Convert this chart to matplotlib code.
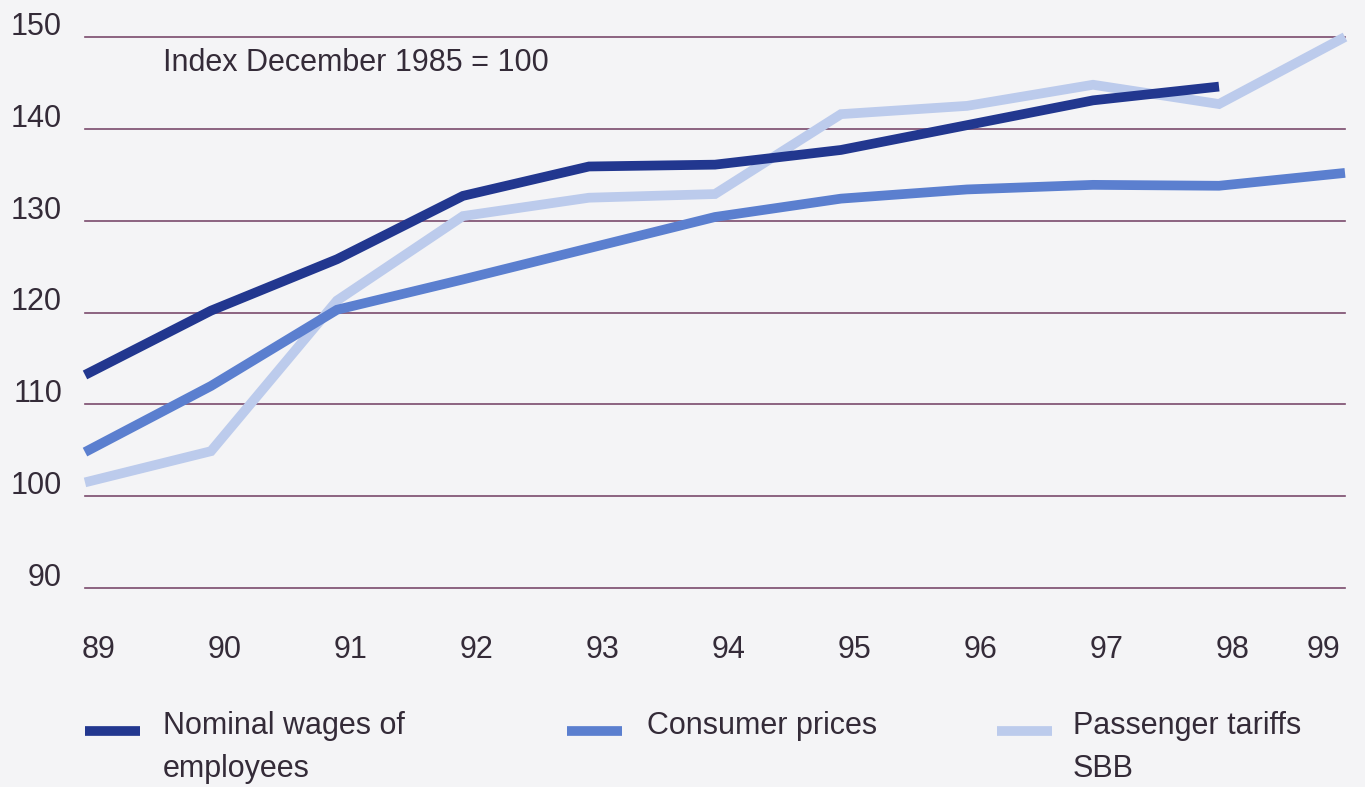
import matplotlib
matplotlib.use("Agg")
import matplotlib.pyplot as plt
from matplotlib.lines import Line2D
import matplotlib.transforms as mtransforms

plt.rcParams['font.family'] = ['Liberation Sans', 'DejaVu Sans']

years = [89, 90, 91, 92, 93, 94, 95, 96, 97, 98, 99]
year_labels = ["89", "90", "91", "92", "93", "94", "95", "96", "97", "98", "99"]

wages_years = [89, 90, 91, 92, 93, 94, 95, 96, 97, 98]
wages = [113.2, 120.2, 125.8, 132.7, 135.9, 136.1, 137.7, 140.4, 143.1, 144.6]

consumer = [104.8, 112.0, 120.3, 123.6, 127.0, 130.4, 132.4, 133.4, 133.9, 133.8, 135.2]

passenger = [101.5, 104.9, 121.3, 130.5, 132.5, 132.9, 141.6, 142.5, 144.8, 142.7, 150.0]

y_ticks = [90, 100, 110, 120, 130, 140, 150]

series_labels = ["Nominal wages of\nemployees", "Consumer prices", "Passenger tariffs\nSBB"]
colors = ["#22378f", "#5b7fcf", "#bccbec"]

text_color = "#342b38"
grid_color = "#7a4a6c"
bg = "#f4f4f6"
fs = 22

W, H = 1365, 787
fig = plt.figure(figsize=(W / 100, H / 100), dpi=100, facecolor=bg)
ax = fig.add_axes([85 / W, 1 - 588 / H, (1345 - 85) / W, (588 - 37) / H])
ax.set_facecolor(bg)
ax.set_xlim(89, 99)
ax.set_ylim(90, 150)

for v in y_ticks:
    ax.axhline(v, color=grid_color, lw=1.2, zorder=1, clip_on=False)

lw = 7
ax.plot(years, passenger, color=colors[2], lw=lw, solid_joinstyle='miter', solid_capstyle='butt', zorder=3, clip_on=False)
ax.plot(years, consumer, color=colors[1], lw=lw, solid_joinstyle='miter', solid_capstyle='butt', zorder=4, clip_on=False)
ax.plot(wages_years, wages, color=colors[0], lw=lw, solid_joinstyle='miter', solid_capstyle='butt', zorder=5, clip_on=False)

for s in ax.spines.values():
    s.set_visible(False)
ax.set_xticks([])
ax.set_yticks([])

# y tick labels (placed above gridlines, right aligned)
ytrans = mtransforms.blended_transform_factory(fig.transFigure, ax.transData)
ytrans = mtransforms.offset_copy(ytrans, fig=fig, x=0, y=10, units='dots')
for v in y_ticks:
    ax.text(62 / W, v, str(v), transform=ytrans, ha='right', va='center',
            fontsize=fs, color=text_color)

# x tick labels
xtrans = mtransforms.blended_transform_factory(ax.transData, fig.transFigure)
for i, (yr, lab) in enumerate(zip(years, year_labels)):
    if i == len(years) - 1:
        t = mtransforms.offset_copy(xtrans, fig=fig, x=-5, y=0, units='dots')
        ax.text(yr, 1 - 650 / H, lab, transform=t, ha='right', va='center', fontsize=fs, color=text_color)
    else:
        t = mtransforms.offset_copy(xtrans, fig=fig, x=-3, y=0, units='dots')
        ax.text(yr, 1 - 650 / H, lab, transform=t, ha='left', va='center', fontsize=fs, color=text_color)

fig.text(163 / W, 1 - 63 / H, "Index December 1985 = 100", ha='left', va='center',
         fontsize=fs, color=text_color)

# legend
leg_x = [(85, 140, 163), (567, 622, 647), (997, 1052, 1073)]
for (x0, x1, tx), c, lab in zip(leg_x, colors, series_labels):
    fig.add_artist(Line2D([x0 / W, x1 / W], [1 - 731 / H, 1 - 731 / H], color=c, lw=7,
                          solid_capstyle='butt', transform=fig.transFigure))
    fig.text(tx / W, 1 - 711 / H, lab, ha='left', va='top', fontsize=fs,
             color=text_color, linespacing=1.55)

fig.savefig("out.png", dpi=100, facecolor=bg)
